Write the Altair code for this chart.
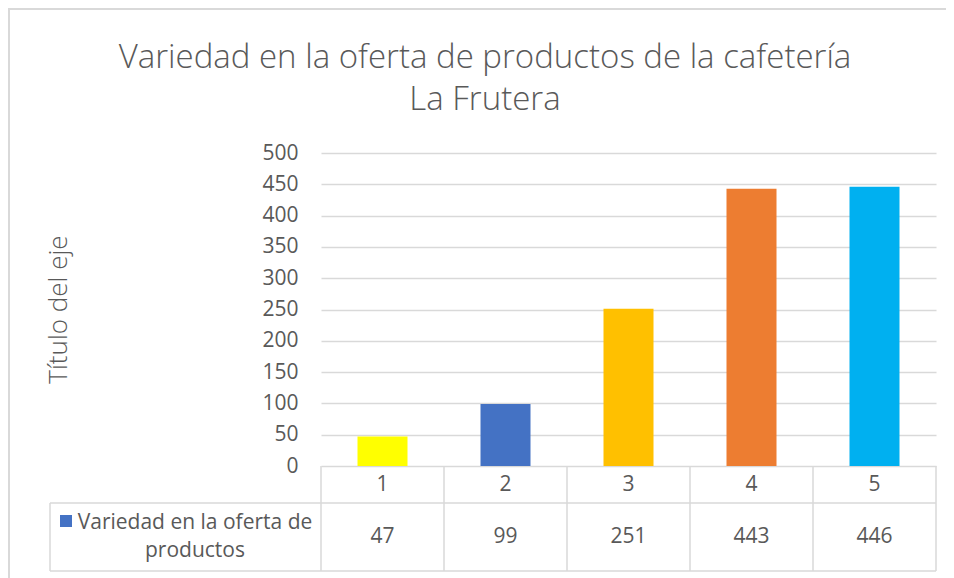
import altair as alt
import pandas as pd

# ---- data ----
categories = ["1", "2", "3", "4", "5"]
values = [47, 99, 251, 443, 446]
bar_colors = ["#FFFF00", "#4472C4", "#FFC000", "#ED7D31", "#00B0F0"]
y_ticks = [0, 50, 100, 150, 200, 250, 300, 350, 400, 450, 500]
title_lines = ["Variedad en la oferta de productos de la cafetería", "La Frutera"]
series_lines = ["Variedad en la oferta de", "productos"]
axis_title = "Título del eje"

df = pd.DataFrame({"cat": categories, "value": values, "color": bar_colors})
one = pd.DataFrame({"k": [0]})

W, H = 615, 313
FONT = "Open Sans"
TXT = "#595959"
GRID = "#d9d9d9"

xenc = alt.X("cat:N", scale=alt.Scale(domain=categories, paddingInner=0, paddingOuter=0), axis=None)
yscale = alt.Scale(domain=[0, 500], nice=False)

base = alt.Chart(df)
single = alt.Chart(one)

bars = base.mark_bar(size=50).encode(
    x=xenc,
    y=alt.Y("value:Q", scale=yscale, axis=alt.Axis(
        values=y_ticks, grid=True, gridColor=GRID, gridWidth=1.5,
        domain=False, ticks=False, tickSize=0,
        labelFont=FONT, labelFontSize=21, labelColor=TXT, labelPadding=23,
        title=axis_title, titleX=-263, titleY=156, titleAngle=270,
        titleFont=FONT, titleFontSize=26, titleFontWeight=300, titleColor=TXT,
        titleAlign="center", titleBaseline="middle")),
    color=alt.Color("color:N", scale=None, legend=None),
)

cat_text = base.mark_text(font=FONT, fontSize=21, color=TXT, baseline="middle").encode(
    x=xenc, y=alt.value(332), text="cat:N")

val_text = base.mark_text(font=FONT, fontSize=21, color=TXT, baseline="middle").encode(
    x=xenc, y=alt.value(384), text="value:Q")

line_style = dict(color=GRID, strokeWidth=1.5)

vlines = base.mark_rule(**line_style).encode(
    x=alt.X("cat:N", scale=alt.Scale(domain=categories, paddingInner=0, paddingOuter=0), axis=None, bandPosition=0),
    y=alt.value(313), y2=alt.value(418))
vline_right = single.mark_rule(**line_style).encode(x=alt.value(W), y=alt.value(313), y2=alt.value(418))
vline_left = single.mark_rule(**line_style).encode(x=alt.value(-271), y=alt.value(350), y2=alt.value(418))
hline_mid = single.mark_rule(**line_style).encode(x=alt.value(-271), x2=alt.value(W), y=alt.value(350))
hline_bot = single.mark_rule(**line_style).encode(x=alt.value(-271), x2=alt.value(W), y=alt.value(418))

border_left = single.mark_rule(color=GRID, strokeWidth=2).encode(x=alt.value(-312), y=alt.value(-144), y2=alt.value(430))
border_top = single.mark_rule(color=GRID, strokeWidth=2).encode(x=alt.value(-313), x2=alt.value(700), y=alt.value(-144))

legend_sq = single.mark_square(size=144, color="#4472C4", opacity=1).encode(
    x=alt.value(-255), y=alt.value(368))

series_text = single.mark_text(font=FONT, fontSize=21, color=TXT, baseline="middle",
                               align="center", lineHeight=28).encode(
    x=alt.value(-126), y=alt.value(370), text=alt.value(series_lines))

title_text = single.mark_text(font=FONT, fontSize=33, fontWeight=300, color=TXT, baseline="alphabetic",
                              align="center", lineHeight=42).encode(
    x=alt.value(164), y=alt.value(-85), text=alt.value(title_lines))

chart = alt.layer(
    border_left, border_top, bars, vlines, vline_right, vline_left, hline_mid, hline_bot,
    cat_text, val_text, legend_sq, series_text, title_text
).properties(
    width=W, height=H,
    autosize=alt.AutoSizeParams(type="none"),
    padding={"left": 313, "top": 145, "right": 10, "bottom": 112},
).configure_view(stroke=None)

chart.save("out.html", embed_options={"renderer": "svg", "actions": False})
